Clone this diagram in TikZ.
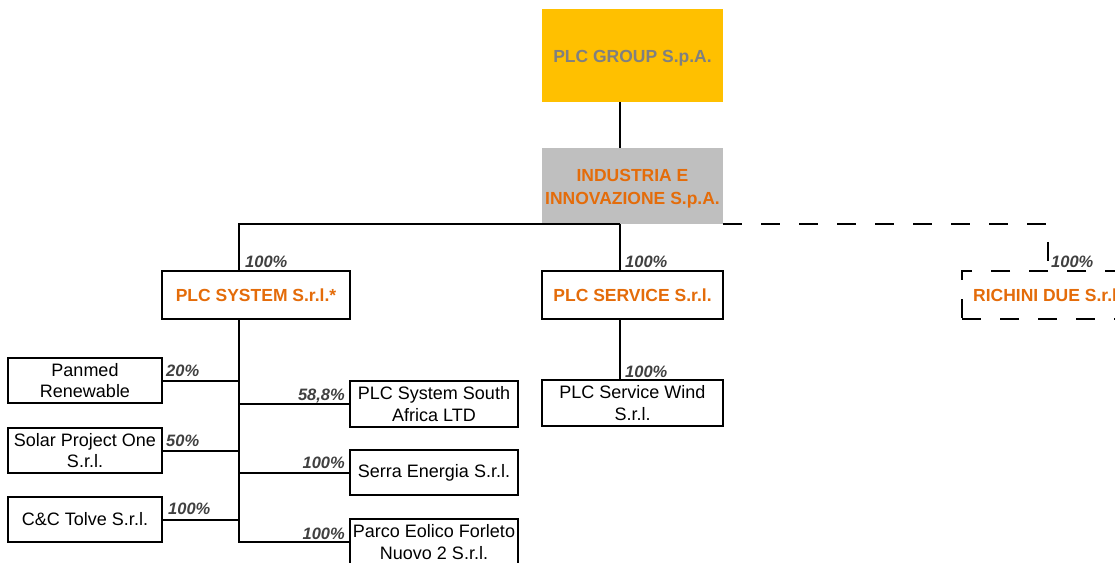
\documentclass[tikz,border=0pt]{standalone}
\usepackage{fontspec}
\setmainfont{Liberation Sans}
\definecolor{orng}{RGB}{228,108,10}
\definecolor{gold}{RGB}{255,192,0}
\definecolor{silv}{RGB}{191,191,191}
\definecolor{grtxt}{RGB}{128,128,128}
\definecolor{pct}{RGB}{64,64,64}
\begin{document}
\begin{tikzpicture}[x=1pt,y=-1pt,
  box/.style={draw=black,line width=2pt,fill=white,inner sep=0pt,align=center,
    font=\fontsize{18}{21.5}\selectfont},
  obox/.style={box,text=orng,font=\bfseries\fontsize{17.5}{23}\selectfont},
  topbox/.style={inner sep=0pt,align=center,font=\bfseries\fontsize{17.5}{23}\selectfont},
  link/.style={line width=2pt},
  dlink/.style={line width=2pt,dash pattern=on 19pt off 19pt},
  pctl/.style={font=\bfseries\itshape\fontsize{16.5}{18}\selectfont,text=pct,inner sep=0pt}]
\useasboundingbox (0,0) rectangle (1115,562);
\clip (0,0) rectangle (1115,562);
% top boxes
\node[fill=gold,inner sep=0pt,minimum width=181pt,minimum height=93pt,
  label={[topbox,text=grtxt,yshift=-3pt]center:PLC GROUP S.p.A.}] (group) at (632.5,55.5) {};
\node[fill=silv,inner sep=0pt,minimum width=181pt,minimum height=76pt,
  label={[topbox,text=orng,yshift=-3pt]center:INDUSTRIA E\\INNOVAZIONE S.p.A.}] (ind) at (632.5,186) {};
% second level
\node[obox,minimum width=188pt,minimum height=48pt] (sys) at (256,295) {PLC SYSTEM S.r.l.*};
\node[obox,minimum width=181pt,minimum height=48pt] (serv) at (632.5,295) {PLC SERVICE S.r.l.};
\node[obox,dlink,minimum width=171pt,minimum height=48pt] (rich) at (1047.5,295) {RICHINI DUE S.r.l.};
% third level
\node[box,minimum width=181pt,minimum height=46pt] (wind) at (632.5,403) {PLC Service Wind\\S.r.l.};
\node[box,minimum width=154pt,minimum height=45pt] (pan) at (85,380.5) {Panmed\\Renewable};
\node[box,minimum width=154pt,minimum height=45pt] (sol) at (85,450.5) {Solar Project One\\S.r.l.};
\node[box,minimum width=154pt,minimum height=45pt] (cct) at (85,519.5) {C\&C Tolve S.r.l.};
\node[box,minimum width=168pt,minimum height=46pt] (psa) at (434,404) {PLC System South\\Africa LTD};
\node[box,minimum width=168pt,minimum height=45pt] (serra) at (434,472.5) {Serra Energia S.r.l.};
\node[box,minimum width=168pt,minimum height=46pt] (parco) at (434,542) {Parco Eolico Forleto\\Nuovo 2 S.r.l.};
% connectors
\draw[link] ([xshift=-12.5pt]group.south) -- ([xshift=-12.5pt]ind.north);
\draw[link] ([xshift=-17pt]sys.north) |- ([xshift=-12.5pt]ind.south);
\draw[dlink] (ind.south east) -| (rich.north);
\draw[link] ([xshift=-12.5pt]ind.south) -- ([xshift=-12.5pt]serv.north);
\draw[link] ([xshift=-12.5pt]serv.south) -- ([xshift=-12.5pt]wind.north);
\coordinate (tr) at ([xshift=-17pt]sys.south);
\draw[link] (tr) |- (parco.west);
\draw[link] (pan.east) -- (pan.east -| tr);
\draw[link] (sol.east) -- (sol.east -| tr);
\draw[link] (cct.east) -- (cct.east -| tr);
\draw[link] (psa.west) -- (psa.west -| tr);
\draw[link] (serra.west) -- (serra.west -| tr);
% percentage labels
\node[pctl,anchor=base west] (p1) at (245,267) {100\%};
\node[pctl,anchor=base west] (p2) at (625,267) {100\%};
\node[pctl,anchor=base west] (p3) at (1051,267) {100\%};
\node[pctl,anchor=base west] (p4) at (625,377) {100\%};
\node[pctl,anchor=base west] (p5) at (166,376) {20\%};
\node[pctl,anchor=base west] (p6) at (166,446) {50\%};
\node[pctl,anchor=base west] (p7) at (168,514) {100\%};
\node[pctl,anchor=base east] (p8) at (345,400.5) {58,8\%};
\node[pctl,anchor=base east] (p9) at (345,468) {100\%};
\node[pctl,anchor=base east] (p10) at (345,539) {100\%};
\end{tikzpicture}
\end{document}
